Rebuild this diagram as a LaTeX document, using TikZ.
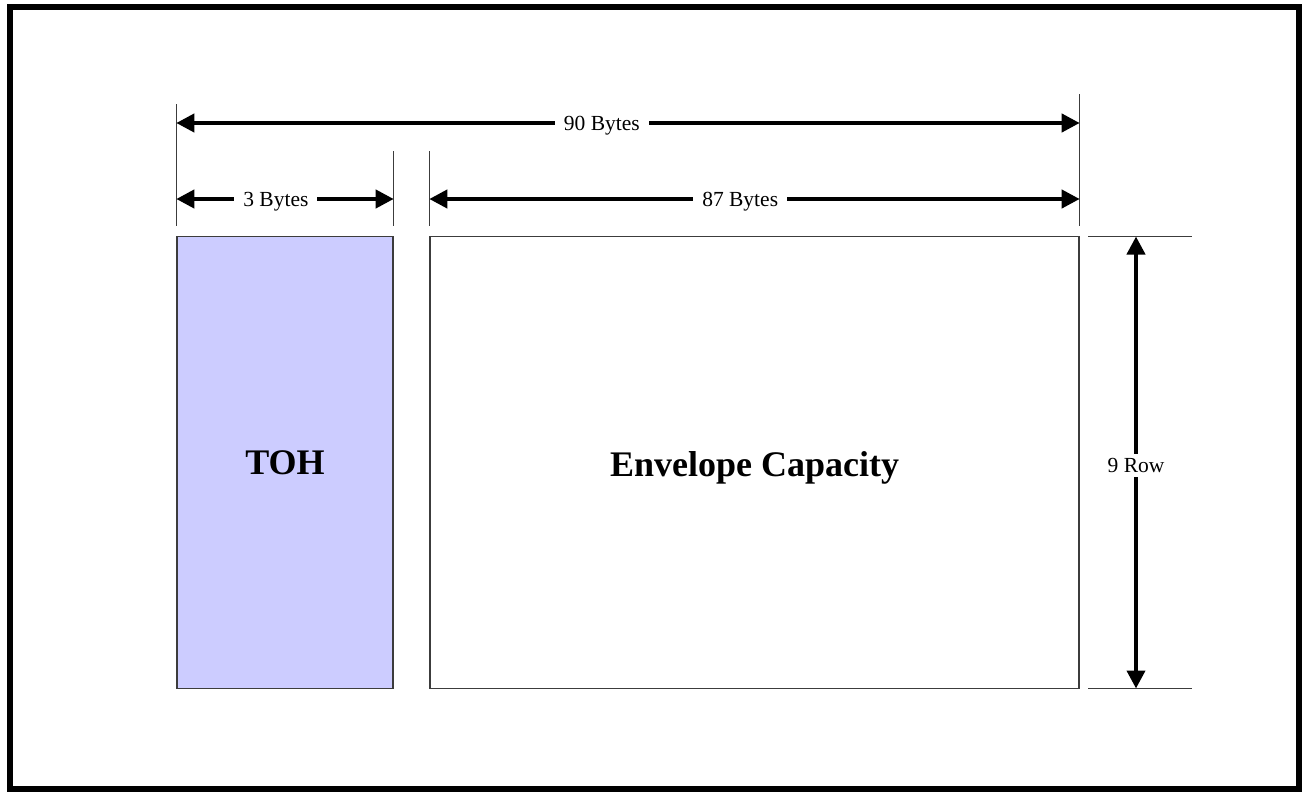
\documentclass[tikz,border=0pt]{standalone}
\usepackage{fontspec}
\setmainfont{Liberation Serif}
\usetikzlibrary{arrows.meta}
\definecolor{tohblue}{RGB}{204,204,255}
\definecolor{edgegray}{RGB}{60,60,60}

\begin{document}
\begin{tikzpicture}[x=1pt,y=-1pt,
  field/.style={draw=edgegray,line width=1.4pt,inner sep=0pt,font=\fontsize{36}{40}\selectfont\bfseries},
  extline/.style={draw=edgegray,line width=1pt},
  dimarrow/.style={line width=4pt,{Triangle[length=18pt,width=18pt]}-{Triangle[length=18pt,width=18pt]}},
  dimlabel/.style={fill=white,inner xsep=9pt,inner ysep=4pt,yshift=-3pt,font=\fontsize{21.5}{24}\selectfont}]
\useasboundingbox (0,0) rectangle (1302,792);
\draw[line width=5.5pt] (10,7) rectangle (1299,789);
\node[field,fill=tohblue,minimum width=216pt,minimum height=452pt] (toh) at (285,462.5) {TOH};
\node[field,minimum width=649pt,minimum height=452pt,text depth=0pt] (env) at (754.5,462.5) {\raisebox{-3pt}{Envelope Capacity}};
% extension lines
\coordinate (a90) at (toh.north west |- 0,123);
\coordinate (b90) at (env.north east |- 0,123);
\coordinate (a3) at (toh.north west |- 0,199);
\coordinate (b3) at (toh.north east |- 0,199);
\coordinate (a87) at (env.north west |- 0,199);
\coordinate (b87) at (env.north east |- 0,199);
\draw[extline] (toh.north west) ++(0,-10) -- ++(0,-122);
\draw[extline] (env.north east) ++(0,-10) -- ++(0,-132);
\draw[extline] (toh.north east) ++(0,-10) -- ++(0,-75);
\draw[extline] (env.north west) ++(0,-10) -- ++(0,-75);
\coordinate (rt) at (1136,236.5);
\coordinate (rb) at (1136,688.5);
\draw[extline] (1088,236.5) -- (1192,236.5);
\draw[extline] (1088,688.5) -- (1192,688.5);
% dimensions
\draw[dimarrow] (a90) -- node[dimlabel,pos=0.471] (l90) {90 Bytes} (b90);
\draw[dimarrow] (a3) -- node[dimlabel,pos=0.458] (l3) {3 Bytes} (b3);
\draw[dimarrow] (a87) -- node[dimlabel,pos=0.478] (l87) {87 Bytes} (b87);
\draw[dimarrow] (rt) -- node[dimlabel,inner xsep=2pt,pos=0.5] (lrow) {9 Row} (rb);
\end{tikzpicture}
\end{document}
